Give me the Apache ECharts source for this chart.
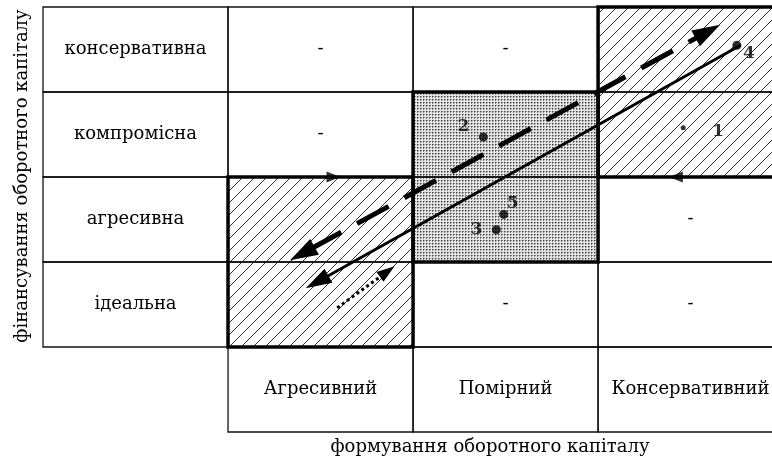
<!DOCTYPE html>
<html>
<head>
<meta charset="utf-8">
<script src="https://cdn.jsdelivr.net/npm/echarts@6.0.0/dist/echarts.min.js"></script>
<style>
  html, body { margin: 0; padding: 0; background: #fff; }
  #chart { width: 772px; height: 461px; }
</style>
</head>
<body>
<div id="chart"></div>
<script>
// rows bottom -> top (row 0 holds the column captions)
var financing = ['ідеальна', 'агресивна', 'компромісна', 'консервативна'];
var forming = ['Агресивний', 'Помірний', 'Консервативний'];
var yTitle = 'фінансування оборотного капіталу';
var xTitle = 'формування оборотного капіталу';

// [col, row] cells marked "-"
var dashCells = [[1, 4], [2, 4], [1, 3], [3, 2], [2, 1], [3, 1]];

// zones: [x0, y0, x1, y1]
var hatchedZones = [[3, 3, 4, 5], [1, 1, 2, 3]];
var dottedZones = [[2, 2, 3, 4]];

// positions of the strategies
var pointNames = ['1', '2', '3', '4', '5'];
var pointX = [3.46, 2.38, 2.45, 3.75, 2.49];
var pointY = [3.58, 3.47, 2.38, 4.55, 2.56];

// arrows: [x0, y0, x1, y1]
var solidArrow = [3.77, 4.55, 1.42, 1.69];
var dashedArrow = [1.335, 2.02, 3.66, 4.79];
var dottedArrow = [1.59, 1.46, 1.90, 1.95];
var borderMarks = [[1.57, 3.0, 'right'], [3.42, 3.0, 'left']];

var FONT = '"DejaVu Serif", "Liberation Serif", serif';

function makeHatch() {
    var c = document.createElement('canvas');
    c.width = 12; c.height = 12;
    var ctx = c.getContext('2d');
    ctx.fillStyle = '#fff';
    ctx.fillRect(0, 0, 12, 12);
    ctx.strokeStyle = '#333';
    ctx.lineWidth = 1;
    ctx.beginPath();
    ctx.moveTo(-1, 13); ctx.lineTo(13, -1);
    ctx.moveTo(-1, 1); ctx.lineTo(1, -1);
    ctx.moveTo(11, 13); ctx.lineTo(13, 11);
    ctx.stroke();
    return c;
}
function makeDots() {
    var c = document.createElement('canvas');
    c.width = 3; c.height = 3;
    var ctx = c.getContext('2d');
    ctx.fillStyle = '#e4e4e4';
    ctx.fillRect(0, 0, 3, 3);
    ctx.fillStyle = '#444';
    ctx.fillRect(0, 0, 1, 1);
    ctx.fillStyle = '#888';
    ctx.fillRect(1, 0, 1, 1);
    ctx.fillRect(0, 1, 1, 1);
    return c;
}
var hatchFill = { image: makeHatch(), repeat: 'repeat' };
var dotFill = { image: makeDots(), repeat: 'repeat' };

function rectOf(api, x0, y0, x1, y1) {
    var a = api.coord([x0, y1]);
    var b = api.coord([x1, y0]);
    return { x: a[0], y: a[1], width: b[0] - a[0], height: b[1] - a[1] };
}

// table cells
var cells = [];
for (var r = 1; r <= financing.length; r++) {
    cells.push({ c: 0, r: r, text: financing[r - 1] });
    for (var c = 1; c <= forming.length; c++) {
        var isDash = dashCells.some(function (d) { return d[0] === c && d[1] === r; });
        cells.push({ c: c, r: r, text: isDash ? '-' : '' });
    }
}
forming.forEach(function (name, i) {
    cells.push({ c: i + 1, r: 0, text: name });
});

var zones = [];
hatchedZones.forEach(function (z) { zones.push({ z: z, fill: hatchFill }); });
dottedZones.forEach(function (z) { zones.push({ z: z, fill: dotFill }); });

var arrows = [
    { a: solidArrow, width: 3, dash: null, heads: ['end'], len: 26, half: 8 },
    { a: dashedArrow, width: 5, dash: [36, 18], heads: ['start', 'end'], len: 28, half: 9 },
    { a: dottedArrow, width: 3, dash: [3, 3], heads: ['end'], len: 18, half: 6 }
];

var labelPos = {
    '1': [35, 4], '2': [-20, -10], '3': [-20, 0], '4': [12, 8], '5': [9, -11]
};

function headPoly(tip, ux, uy, len, half) {
    var bx = tip[0] - ux * len, by = tip[1] - uy * len;
    return [tip, [bx - uy * half, by + ux * half], [bx + uy * half, by - ux * half]];
}

var chart = echarts.init(document.getElementById('chart'), null, { renderer: 'canvas' });

chart.setOption({
    animation: false,
    backgroundColor: '#fff',
    grid: { left: 43, top: 7, right: 0, height: 425 },
    xAxis: { type: 'value', min: 0, max: 3.94, show: false },
    yAxis: { type: 'value', min: 0, max: 5, show: false },
    graphic: [
        {
            type: 'text', x: 22, y: 176, rotation: Math.PI / 2,
            style: { text: yTitle, font: '18px ' + FONT, fill: '#000', align: 'center', verticalAlign: 'middle' }
        },
        {
            type: 'text', x: 490, y: 447,
            style: { text: xTitle, font: '18px ' + FONT, fill: '#000', align: 'center', verticalAlign: 'middle' }
        }
    ],
    series: [
        {
            type: 'custom',
            name: 'zones',
            clip: false,
            silent: true,
            data: zones.map(function (d, i) { return [i]; }),
            renderItem: function (params, api) {
                var z = zones[params.dataIndex].z;
                return {
                    type: 'rect',
                    shape: rectOf(api, z[0], z[1], z[2], z[3]),
                    style: { fill: zones[params.dataIndex].fill, stroke: null }
                };
            }
        },
        {
            type: 'custom',
            name: 'cells',
            clip: false,
            silent: true,
            data: cells.map(function (d) { return [d.c, d.r]; }),
            renderItem: function (params, api) {
                var d = cells[params.dataIndex];
                var s = rectOf(api, d.c, d.r, d.c + 1, d.r + 1);
                return {
                    type: 'group',
                    children: [
                        { type: 'rect', shape: s, style: { fill: 'none', stroke: '#111', lineWidth: 1.3 } },
                        {
                            type: 'text',
                            style: {
                                text: d.text, x: s.x + s.width / 2, y: s.y + s.height / 2,
                                align: 'center', verticalAlign: 'middle',
                                font: '18px ' + FONT, fill: '#000'
                            }
                        }
                    ]
                };
            }
        },
        {
            type: 'custom',
            name: 'zone borders',
            clip: false,
            silent: true,
            data: zones.map(function (d, i) { return [i]; }),
            renderItem: function (params, api) {
                var z = zones[params.dataIndex].z;
                return {
                    type: 'rect',
                    shape: rectOf(api, z[0], z[1], z[2], z[3]),
                    style: { fill: 'none', stroke: '#000', lineWidth: 3.5 }
                };
            }
        },
        {
            type: 'custom',
            name: 'arrows',
            clip: false,
            silent: true,
            data: arrows.map(function (d, i) { return [i]; }),
            renderItem: function (params, api) {
                var d = arrows[params.dataIndex];
                var p0 = api.coord([d.a[0], d.a[1]]);
                var p1 = api.coord([d.a[2], d.a[3]]);
                var dx = p1[0] - p0[0], dy = p1[1] - p0[1];
                var L = Math.sqrt(dx * dx + dy * dy);
                var ux = dx / L, uy = dy / L;
                var s = p0.slice(), e = p1.slice();
                var children = [];
                if (d.heads.indexOf('start') >= 0) {
                    s = [p0[0] + ux * d.len * 0.8, p0[1] + uy * d.len * 0.8];
                    children.push({ type: 'polygon', shape: { points: headPoly(p0, -ux, -uy, d.len, d.half) }, style: { fill: '#000' } });
                }
                if (d.heads.indexOf('end') >= 0) {
                    e = [p1[0] - ux * d.len * 0.8, p1[1] - uy * d.len * 0.8];
                    children.push({ type: 'polygon', shape: { points: headPoly(p1, ux, uy, d.len, d.half) }, style: { fill: '#000' } });
                }
                children.unshift({
                    type: 'line',
                    shape: { x1: s[0], y1: s[1], x2: e[0], y2: e[1] },
                    style: { stroke: '#000', lineWidth: d.width, lineDash: d.dash }
                });
                return { type: 'group', children: children };
            }
        },
        {
            type: 'scatter',
            silent: true,
            symbol: 'triangle',
            symbolSize: [11, 14],
            itemStyle: { color: '#000' },
            data: borderMarks.map(function (m) {
                return { value: [m[0], m[1]], symbolRotate: m[2] === 'right' ? -90 : 90 };
            })
        },
        {
            type: 'scatter',
            silent: true,
            symbol: 'circle',
            itemStyle: { color: '#000' },
            data: pointNames.map(function (n, i) {
                return {
                    name: n,
                    value: [pointX[i], pointY[i]],
                    symbolSize: n === '1' ? 5 : 9,
                    label: {
                        show: true, formatter: n, position: 'inside', offset: labelPos[n],
                        color: '#000', fontSize: 17, fontWeight: 'bold', fontFamily: FONT
                    }
                };
            })
        }
    ]
});
</script>
</body>
</html>
